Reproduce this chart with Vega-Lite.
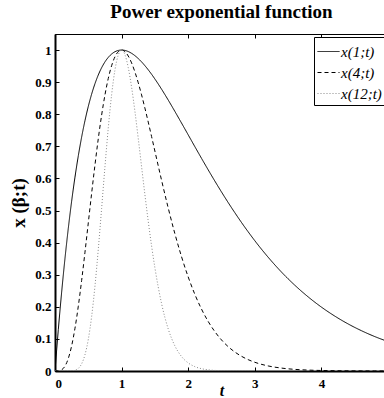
{
  "$schema": "https://vega.github.io/schema/vega-lite/v6.json",
  "autosize": {"type": "none"},
  "padding": {"left": 55, "top": 34, "right": 0, "bottom": 27},
  "width": 333,
  "height": 337,
  "title": {"text": "Power exponential function", "font": "Liberation Serif", "fontSize": 19, "fontWeight": "bold", "color": "black", "offset": 12, "anchor": "middle"},
  "config": {
    "view": {"stroke": "black", "strokeWidth": 1},
    "axis": {"labelFont": "Liberation Serif", "labelFontWeight": "bold", "labelFontSize": 13, "labelColor": "black", "tickColor": "black", "domainColor": "black", "grid": false, "titleFont": "Liberation Serif", "titleFontWeight": "bold", "titleFontSize": 16, "titleColor": "black", "titleFontStyle": "italic"}
  },
  "data": {"values": [
    {"t":0,"x":0,"s":"x(1;t)"},{"t":0.05,"x":0.1293,"s":"x(1;t)"},{"t":0.1,"x":0.246,"s":"x(1;t)"},{"t":0.15,"x":0.351,"s":"x(1;t)"},{"t":0.2,"x":0.4451,"s":"x(1;t)"},{"t":0.25,"x":0.5293,"s":"x(1;t)"},{"t":0.3,"x":0.6041,"s":"x(1;t)"},{"t":0.35,"x":0.6704,"s":"x(1;t)"},{"t":0.4,"x":0.7288,"s":"x(1;t)"},{"t":0.45,"x":0.78,"s":"x(1;t)"},{"t":0.5,"x":0.8244,"s":"x(1;t)"},{"t":0.55,"x":0.8626,"s":"x(1;t)"},{"t":0.6,"x":0.8951,"s":"x(1;t)"},{"t":0.65,"x":0.9224,"s":"x(1;t)"},{"t":0.7,"x":0.9449,"s":"x(1;t)"},{"t":0.75,"x":0.963,"s":"x(1;t)"},{"t":0.8,"x":0.9771,"s":"x(1;t)"},{"t":0.85,"x":0.9876,"s":"x(1;t)"},{"t":0.9,"x":0.9947,"s":"x(1;t)"},{"t":0.95,"x":0.9987,"s":"x(1;t)"},{"t":1,"x":1,"s":"x(1;t)"},{"t":1.05,"x":0.9988,"s":"x(1;t)"},{"t":1.1,"x":0.9953,"s":"x(1;t)"},{"t":1.15,"x":0.9898,"s":"x(1;t)"},{"t":1.2,"x":0.9825,"s":"x(1;t)"},{"t":1.25,"x":0.9735,"s":"x(1;t)"},{"t":1.3,"x":0.9631,"s":"x(1;t)"},{"t":1.35,"x":0.9513,"s":"x(1;t)"},{"t":1.4,"x":0.9384,"s":"x(1;t)"},{"t":1.45,"x":0.9246,"s":"x(1;t)"},{"t":1.5,"x":0.9098,"s":"x(1;t)"},{"t":1.6,"x":0.8781,"s":"x(1;t)"},{"t":1.7,"x":0.8442,"s":"x(1;t)"},{"t":1.8,"x":0.8088,"s":"x(1;t)"},{"t":1.9,"x":0.7725,"s":"x(1;t)"},{"t":2,"x":0.7358,"s":"x(1;t)"},{"t":2.1,"x":0.699,"s":"x(1;t)"},{"t":2.2,"x":0.6626,"s":"x(1;t)"},{"t":2.3,"x":0.6268,"s":"x(1;t)"},{"t":2.4,"x":0.5918,"s":"x(1;t)"},{"t":2.5,"x":0.5578,"s":"x(1;t)"},{"t":2.6,"x":0.5249,"s":"x(1;t)"},{"t":2.7,"x":0.4933,"s":"x(1;t)"},{"t":2.8,"x":0.4628,"s":"x(1;t)"},{"t":2.9,"x":0.4338,"s":"x(1;t)"},{"t":3,"x":0.406,"s":"x(1;t)"},{"t":3.2,"x":0.3546,"s":"x(1;t)"},{"t":3.4,"x":0.3084,"s":"x(1;t)"},{"t":3.6,"x":0.2674,"s":"x(1;t)"},{"t":3.8,"x":0.2311,"s":"x(1;t)"},{"t":4,"x":0.1991,"s":"x(1;t)"},{"t":4.2,"x":0.1712,"s":"x(1;t)"},{"t":4.4,"x":0.1468,"s":"x(1;t)"},{"t":4.6,"x":0.1257,"s":"x(1;t)"},{"t":4.8,"x":0.1074,"s":"x(1;t)"},{"t":5,"x":0.0916,"s":"x(1;t)"},
    {"t":0,"x":0,"s":"x(4;t)"},{"t":0.05,"x":0.0003,"s":"x(4;t)"},{"t":0.1,"x":0.0037,"s":"x(4;t)"},{"t":0.15,"x":0.0152,"s":"x(4;t)"},{"t":0.2,"x":0.0393,"s":"x(4;t)"},{"t":0.25,"x":0.0785,"s":"x(4;t)"},{"t":0.3,"x":0.1332,"s":"x(4;t)"},{"t":0.35,"x":0.202,"s":"x(4;t)"},{"t":0.4,"x":0.2822,"s":"x(4;t)"},{"t":0.45,"x":0.3701,"s":"x(4;t)"},{"t":0.5,"x":0.4618,"s":"x(4;t)"},{"t":0.55,"x":0.5536,"s":"x(4;t)"},{"t":0.6,"x":0.6419,"s":"x(4;t)"},{"t":0.65,"x":0.7239,"s":"x(4;t)"},{"t":0.7,"x":0.7972,"s":"x(4;t)"},{"t":0.75,"x":0.8601,"s":"x(4;t)"},{"t":0.8,"x":0.9116,"s":"x(4;t)"},{"t":0.85,"x":0.9512,"s":"x(4;t)"},{"t":0.9,"x":0.9788,"s":"x(4;t)"},{"t":0.95,"x":0.9949,"s":"x(4;t)"},{"t":1,"x":1,"s":"x(4;t)"},{"t":1.05,"x":0.9952,"s":"x(4;t)"},{"t":1.1,"x":0.9814,"s":"x(4;t)"},{"t":1.15,"x":0.9599,"s":"x(4;t)"},{"t":1.2,"x":0.9317,"s":"x(4;t)"},{"t":1.25,"x":0.8981,"s":"x(4;t)"},{"t":1.3,"x":0.8602,"s":"x(4;t)"},{"t":1.35,"x":0.8191,"s":"x(4;t)"},{"t":1.4,"x":0.7756,"s":"x(4;t)"},{"t":1.45,"x":0.7307,"s":"x(4;t)"},{"t":1.5,"x":0.6851,"s":"x(4;t)"},{"t":1.6,"x":0.5945,"s":"x(4;t)"},{"t":1.7,"x":0.5079,"s":"x(4;t)"},{"t":1.8,"x":0.4279,"s":"x(4;t)"},{"t":1.9,"x":0.3561,"s":"x(4;t)"},{"t":2,"x":0.2931,"s":"x(4;t)"},{"t":2.1,"x":0.2388,"s":"x(4;t)"},{"t":2.2,"x":0.1928,"s":"x(4;t)"},{"t":2.3,"x":0.1544,"s":"x(4;t)"},{"t":2.4,"x":0.1227,"s":"x(4;t)"},{"t":2.5,"x":0.0968,"s":"x(4;t)"},{"t":2.6,"x":0.0759,"s":"x(4;t)"},{"t":2.7,"x":0.0592,"s":"x(4;t)"},{"t":2.8,"x":0.0459,"s":"x(4;t)"},{"t":2.9,"x":0.0354,"s":"x(4;t)"},{"t":3,"x":0.0272,"s":"x(4;t)"},{"t":3.2,"x":0.0158,"s":"x(4;t)"},{"t":3.4,"x":0.0091,"s":"x(4;t)"},{"t":3.6,"x":0.0051,"s":"x(4;t)"},{"t":3.8,"x":0.0029,"s":"x(4;t)"},{"t":4,"x":0.0016,"s":"x(4;t)"},{"t":4.2,"x":0.0009,"s":"x(4;t)"},{"t":4.4,"x":0.0005,"s":"x(4;t)"},{"t":4.6,"x":0.0003,"s":"x(4;t)"},{"t":4.8,"x":0.0001,"s":"x(4;t)"},{"t":5,"x":0.0001,"s":"x(4;t)"},
    {"t":0,"x":0,"s":"x(12;t)"},{"t":0.05,"x":0,"s":"x(12;t)"},{"t":0.1,"x":0,"s":"x(12;t)"},{"t":0.15,"x":0.0000035,"s":"x(12;t)"},{"t":0.2,"x":0.00006,"s":"x(12;t)"},{"t":0.25,"x":0.0005,"s":"x(12;t)"},{"t":0.3,"x":0.0024,"s":"x(12;t)"},{"t":0.35,"x":0.0082,"s":"x(12;t)"},{"t":0.4,"x":0.0225,"s":"x(12;t)"},{"t":0.45,"x":0.0507,"s":"x(12;t)"},{"t":0.5,"x":0.0985,"s":"x(12;t)"},{"t":0.55,"x":0.1696,"s":"x(12;t)"},{"t":0.6,"x":0.2645,"s":"x(12;t)"},{"t":0.65,"x":0.3793,"s":"x(12;t)"},{"t":0.7,"x":0.5066,"s":"x(12;t)"},{"t":0.75,"x":0.6362,"s":"x(12;t)"},{"t":0.8,"x":0.7575,"s":"x(12;t)"},{"t":0.85,"x":0.8605,"s":"x(12;t)"},{"t":0.9,"x":0.9377,"s":"x(12;t)"},{"t":0.95,"x":0.9846,"s":"x(12;t)"},{"t":1,"x":1,"s":"x(12;t)"},{"t":1.05,"x":0.9856,"s":"x(12;t)"},{"t":1.1,"x":0.9453,"s":"x(12;t)"},{"t":1.15,"x":0.8843,"s":"x(12;t)"},{"t":1.2,"x":0.8089,"s":"x(12;t)"},{"t":1.25,"x":0.7245,"s":"x(12;t)"},{"t":1.3,"x":0.6366,"s":"x(12;t)"},{"t":1.35,"x":0.5495,"s":"x(12;t)"},{"t":1.4,"x":0.4666,"s":"x(12;t)"},{"t":1.45,"x":0.3901,"s":"x(12;t)"},{"t":1.5,"x":0.3216,"s":"x(12;t)"},{"t":1.6,"x":0.2102,"s":"x(12;t)"},{"t":1.7,"x":0.131,"s":"x(12;t)"},{"t":1.8,"x":0.0783,"s":"x(12;t)"},{"t":1.9,"x":0.0451,"s":"x(12;t)"},{"t":2,"x":0.0252,"s":"x(12;t)"},{"t":2.1,"x":0.0136,"s":"x(12;t)"},{"t":2.2,"x":0.0072,"s":"x(12;t)"},{"t":2.3,"x":0.0037,"s":"x(12;t)"},{"t":2.4,"x":0.0018,"s":"x(12;t)"},{"t":2.5,"x":0.0009,"s":"x(12;t)"},{"t":2.6,"x":0.0004,"s":"x(12;t)"},{"t":2.7,"x":0.0002,"s":"x(12;t)"},{"t":2.8,"x":0.0001,"s":"x(12;t)"},{"t":2.9,"x":0,"s":"x(12;t)"},{"t":3,"x":0,"s":"x(12;t)"}
  ]},
  "layer": [
    {
      "mark": {"type": "line", "interpolate": "monotone", "strokeWidth": 1, "clip": true},
      "encoding": {
        "x": {"field": "t", "type": "quantitative", "scale": {"domain": [0, 5], "nice": false, "zero": false}, "axis": {"title": "t", "values": [0, 1, 2, 3, 4], "tickSize": -4, "labelPadding": 10, "domainWidth": 2, "titleY": 24, "titleBaseline": "alphabetic", "orient": "bottom"}},
        "y": {"field": "x", "type": "quantitative", "scale": {"domain": [0, 1.05], "nice": false}, "axis": {"title": "x (β;t)", "values": [0, 0.1, 0.2, 0.3, 0.4, 0.5, 0.6, 0.7, 0.8, 0.9, 1], "format": "~g", "tickSize": -4, "labelPadding": 8, "domainWidth": 2, "titlePadding": 6, "titleFontSize": 19, "titleFontStyle": "normal"}},
        "color": {"field": "s", "type": "nominal", "scale": {"domain": ["x(1;t)", "x(4;t)", "x(12;t)"], "range": ["black", "black", "#888888"]}, "legend": {"title": null, "orient": "top-right", "offset": 3, "strokeColor": "black", "fillColor": "white", "padding": 3, "labelFont": "Liberation Serif", "labelFontSize": 15, "labelFontStyle": "italic", "labelColor": "black", "labelOffset": 1, "symbolType": "stroke", "symbolSize": 484, "symbolStrokeWidth": 1, "rowPadding": 1}},
        "strokeDash": {"field": "s", "type": "nominal", "scale": {"domain": ["x(1;t)", "x(4;t)", "x(12;t)"], "range": [[1, 0], [4, 3], [1, 2]]}, "legend": {"title": null}}
      }
    },
    {
      "mark": {"type": "line", "opacity": 0},
      "encoding": {
        "x": {"field": "t", "type": "quantitative", "axis": {"orient": "top", "values": [0, 1, 2, 3, 4], "labels": false, "title": null, "tickSize": -4, "domain": false}}
      }
    }
  ],
  "resolve": {"axis": {"x": "independent"}}
}
